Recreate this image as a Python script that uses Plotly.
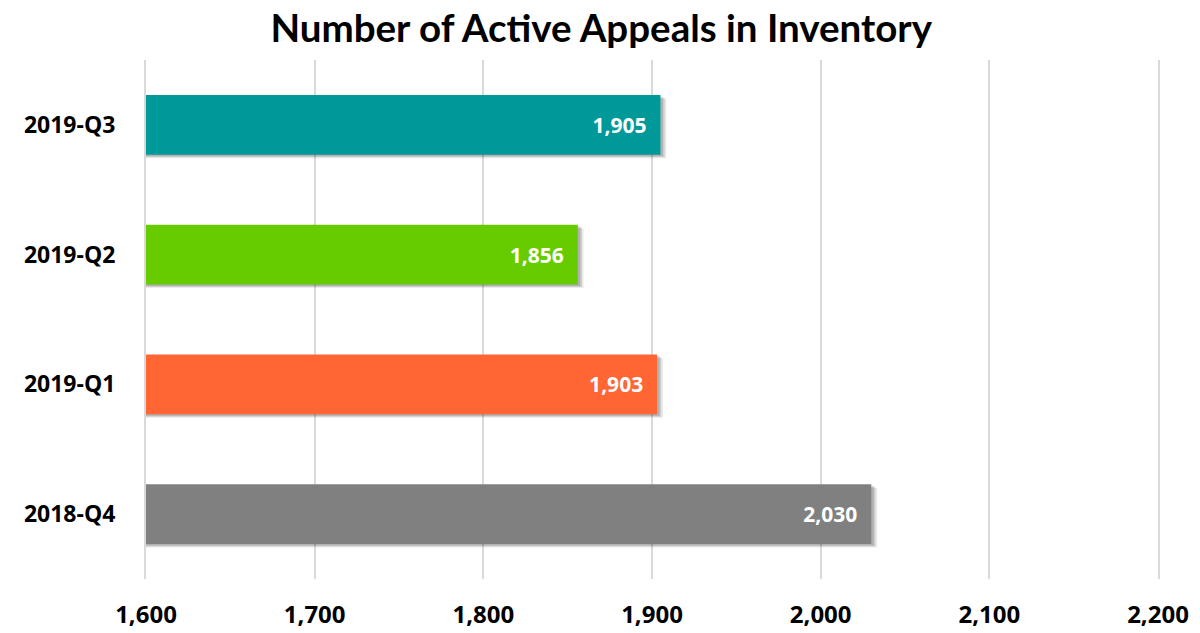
import plotly.graph_objects as go

categories = ["2018-Q4", "2019-Q1", "2019-Q2", "2019-Q3"]
values = [2030, 1903, 1856, 1905]
colors = ["#808080", "#FF6633", "#66CC00", "#009999"]
tick_vals = [1600, 1700, 1800, 1900, 2000, 2100, 2200]
tick_text = ["1,600", "1,700", "1,800", "1,900", "2,000", "2,100", "2,200"]
title = "Number of Active Appeals in Inventory"

TFONT = "Lato"
FONT = "Open Sans"
GRID = "#d9d9d9"

fig = go.Figure()
# soft drop shadow
for k, a in [(3.5, 0.08), (2.5, 0.12), (1.5, 0.14)]:
    fig.add_trace(go.Bar(
        y=categories, x=[v - 1600 + k for v in values], base=1600, orientation="h",
        marker=dict(color=f"rgba(0,0,0,{a})", line=dict(width=0)),
        width=0.46, offset=-0.23 - 0.008 * k, hoverinfo="skip", showlegend=False,
    ))
fig.add_trace(go.Bar(
    y=categories, x=[v - 1600 for v in values], base=1600, orientation="h",
    marker=dict(color=colors, line=dict(width=0)),
    width=0.46, offset=-0.23,
    text=[f"{v:,}\u00a0\u00a0" for v in values], textposition="inside", insidetextanchor="end",
    textfont=dict(family=FONT, size=21, color="white", weight="bold"),
    showlegend=False,
))

fig.update_layout(
    barmode="overlay",
    width=1200, height=633,
    paper_bgcolor="white", plot_bgcolor="white",
    margin=dict(l=146, r=42, t=60, b=54),
    title=dict(text=title, x=0.501, xanchor="center", y=0.955, yanchor="middle",
               font=dict(family=TFONT, size=38.5, color="black", weight="bold")),
    xaxis=dict(range=[1600, 2200], tickvals=tick_vals, ticktext=tick_text,
               showgrid=True, gridcolor=GRID, gridwidth=2,
               zeroline=False, showline=False, ticks="", automargin=False,
               ticklabelstandoff=19,
               tickfont=dict(family=FONT, size=24, color="black", weight="bold")),
    yaxis=dict(showgrid=False, zeroline=False, showline=True, linecolor=GRID,
               linewidth=2, mirror=True, ticks="", automargin=False,
               ticklabelstandoff=24,
               tickfont=dict(family=FONT, size=23, color="black", weight="bold")),
)

fig.write_html("out.html", config={"displayModeBar": False},
               post_script="document.body.style.margin='0px';")
